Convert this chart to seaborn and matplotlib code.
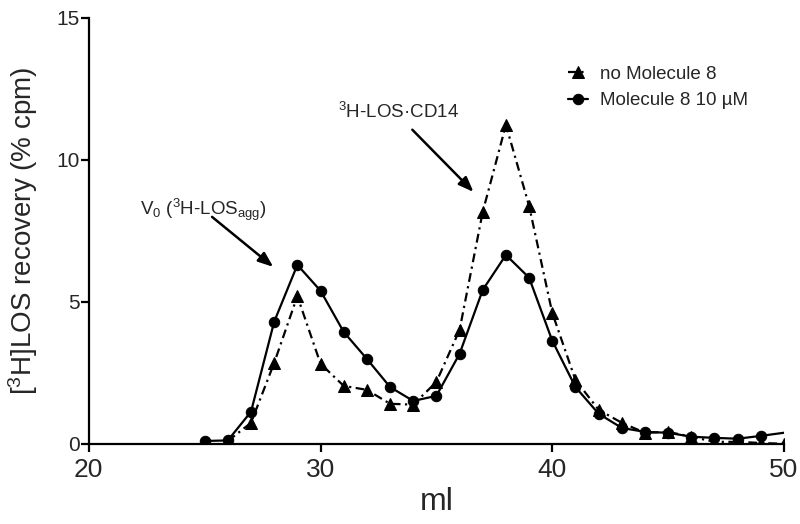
import numpy as np
import pandas as pd
import matplotlib
matplotlib.use('Agg')
import matplotlib.pyplot as plt
import seaborn as sns

# elution volume (ml)
ml_ctrl = [26, 27, 28, 29, 30, 31, 32, 33, 34, 35, 36, 37, 38, 39, 40, 41, 42,
           43, 44, 45, 46, 47, 48, 49, 50]
no_mol8 = [0.1, 0.74, 2.85, 5.2, 2.82, 2.04, 1.9, 1.41, 1.38, 2.18, 4.01, 8.17,
           11.23, 8.38, 4.61, 2.25, 1.2, 0.74, 0.39, 0.42, 0.25, 0.07, 0.07,
           0.03, 0.0]

ml_mol8 = [25, 26, 27, 28, 29, 30, 31, 32, 33, 34, 35, 36, 37, 38, 39, 40, 41,
           42, 43, 44, 45, 46, 47, 48, 49, 51]
mol8_10uM = [0.1, 0.12, 1.13, 4.3, 6.3, 5.39, 3.94, 2.99, 2.0, 1.51, 1.69, 3.17,
             5.42, 6.65, 5.85, 3.63, 2.0, 1.06, 0.56, 0.42, 0.39, 0.25, 0.21,
             0.18, 0.28, 0.5]

sns.set_style('ticks')
plt.rcParams['font.family'] = ['Liberation Sans', 'DejaVu Sans']
plt.rcParams['mathtext.fontset'] = 'custom'
plt.rcParams['mathtext.rm'] = 'Liberation Sans'
plt.rcParams['mathtext.it'] = 'Liberation Sans'

fig = plt.figure(figsize=(8, 5.24), dpi=100)
ax = fig.add_axes([0.111, 0.153, 0.869, 0.813])

sns.lineplot(x=ml_ctrl, y=no_mol8, ax=ax, color='black', marker='^',
             markersize=8, markeredgecolor='black', linewidth=1.6,
             linestyle=(0, (4, 2, 1, 2)), label='no Molecule 8')
sns.lineplot(x=ml_mol8, y=mol8_10uM, ax=ax, color='black', marker='o',
             markersize=7.5, markeredgecolor='black', linewidth=1.6,
             label='Molecule 8 10 µM')

ax.set_xlim(20, 50)
ax.set_ylim(0, 15)
ax.set_xticks([20, 30, 40, 50])
ax.set_yticks([0, 5, 10, 15])
ax.tick_params(axis='both', width=1.6, length=6, direction='out', color='black')
ax.tick_params(axis='x', labelsize=19, pad=4)
ax.tick_params(axis='y', labelsize=15, pad=0.5)
for side in ['left', 'bottom']:
    ax.spines[side].set_linewidth(1.6)
    ax.spines[side].set_color('black')
sns.despine(ax=ax)

ax.set_xlabel('ml', fontsize=23, labelpad=4)
ax.set_ylabel('[$^3$H]LOS recovery (% cpm)', fontsize=20, labelpad=12)

ax.legend(loc='upper left', bbox_to_anchor=(0.679, 0.905), frameon=False,
          fontsize=13.5, handlelength=1.07, handletextpad=0.64,
          labelspacing=0.5, borderaxespad=0)

arrow = dict(arrowstyle='-|>,head_length=0.9,head_width=0.35',
             color='black', lw=1.8, shrinkA=0, shrinkB=0)
ax.annotate('', xy=(36.6, 8.87), xytext=(33.96, 11.06), arrowprops=arrow)
ax.text(30.77, 11.48, '$^3$H-LOS·CD14', fontsize=13.5, ha='left',
        va='baseline')

ax.annotate('', xy=(27.96, 6.23), xytext=(25.32, 7.99), arrowprops=arrow)
ax.text(22.2, 8.06, 'V$_0$ ($^3$H-LOS$_{\\mathrm{agg}}$)', fontsize=13.5,
        ha='left', va='baseline')

fig.savefig('out.png', dpi=100)
